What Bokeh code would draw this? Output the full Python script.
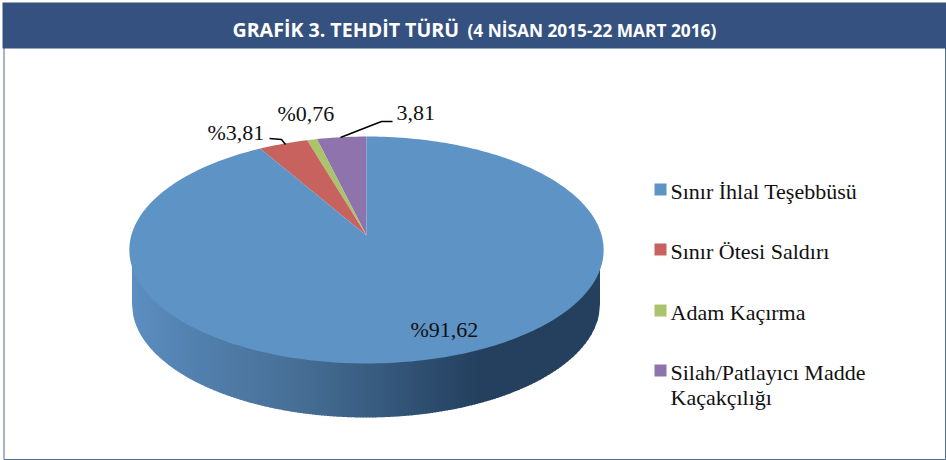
import numpy as np
from bokeh.plotting import figure
from bokeh.models import Range1d
from bokeh.embed import file_html
from bokeh.resources import INLINE
from bokeh.core.properties import value

categories = ["Silah/Patlayıcı Madde\nKaçakçılığı", "Adam Kaçırma", "Sınır Ötesi Saldırı", "Sınır İhlal Teşebbüsü"]
shares = [3.81, 0.76, 3.81, 91.62]
colors = ["#8E73AC", "#A9C46C", "#C8625E", "#5E93C6"]
legend_order = [3, 2, 1, 0]
legend_y = [191, 251, 312, 372]
pct_labels = ["3,81", "%0,76", "%3,81", "%91,62"]
title_main = "GRAFİK 3. TEHDİT TÜRÜ"
title_sub = "(4 NİSAN 2015-22 MART 2016)"

W, H = 946, 460
p = figure(width=W, height=H, x_range=Range1d(0, W), y_range=Range1d(H, 0),
           output_backend="svg", toolbar_location=None, min_border=0,
           outline_line_color=None, background_fill_color="white", border_fill_color="white")
p.axis.visible = False
p.grid.visible = False
p.styles = {"position": "absolute", "left": "0", "top": "0"}

# frame and header
p.quad(left=[3.5], right=[945], top=[47], bottom=[459], fill_color="white", line_color="#4E6C8F", line_width=1)
p.quad(left=[2], right=[946], top=[2], bottom=[48], fill_color="#35517F", line_color=None)
SERIF = value("Liberation Serif")
p.text([232], [29], [title_main], text_font=value("Open Sans"), text_font_style="bold",
       text_font_size="19.6px", text_color="white", text_baseline="middle")
p.text([467], [30], [title_sub], text_font=value("Open Sans"), text_font_style="bold",
       text_font_size="17.3px", text_color="white", text_baseline="middle")

# perspective disc
cx, apex_y = 366, 235
d, a, c = 235.2, 111.6, -0.1278
def rim(t):
    u, v = np.sin(t), -np.cos(t)
    w = 1 + c * v
    return cx + d * u / w, apex_y + a * v / w

# side wall: strips between top rim and lower rim
ex, ey, erx, ery = 365.5, 249.5, 236.5, 113.5
bx, by, brx, bry = 365.5, 303.5, 234, 113.5
stops_x = [129, 200, 300, 400, 480, 602]
stops_c = [(0x5D, 0x8F, 0xC4), (0x52, 0x80, 0xAD), (0x47, 0x6F, 0x96), (0x33, 0x55, 0x78), (0x24, 0x40, 0x5E), (0x24, 0x40, 0x5E)]
def lower(xv, e0, rx, ry):
    r = np.clip((xv - ex) / rx, -1, 1)
    return e0 + ry * np.sqrt(1 - r * r)
xs, ys, cols = [], [], []
for x0 in np.arange(bx - brx, bx + brx - 0.5, 3.0):
    x1 = min(x0 + 3.6, bx + brx)
    g = np.linspace(x0, x1, 4)
    top = lower(g, ey, erx, ery)
    bot = lower(g, by, brx, bry)
    xs.append(list(g) + list(g[::-1]))
    ys.append(list(top - 2) + list(bot[::-1]))
    m = x0 + 1.8
    rgb = [int(np.interp(m, stops_x, [s[i] for s in stops_c])) for i in range(3)]
    cols.append("#%02x%02x%02x" % tuple(rgb))
p.patches(xs, ys, fill_color=cols, line_color=None)

# top-face wedges, running anticlockwise from 12 o'clock
angle = 0.0
boundaries = [0.0]
for s in shares:
    angle -= s / 100 * 2 * np.pi
    boundaries.append(angle)
for i, s in enumerate(shares):
    ts = np.linspace(boundaries[i], boundaries[i + 1], max(4, int(s * 3)))
    rx_, ry_ = rim(ts)
    p.patch([cx] + list(rx_), [apex_y] + list(ry_), fill_color=colors[i], line_color=None)

# leader lines
p.line([269, 281, 285], [138, 139, 144], line_color="black", line_width=1.5)
p.line([340, 381, 392], [137, 121, 121], line_color="black", line_width=1.5)

# value labels
lab_x = [396, 277, 207, 410]
lab_y = [112, 113, 132, 329]
p.text(lab_x, lab_y, pct_labels, text_font=SERIF, text_font_size="22px",
       text_color="#111111", text_baseline="middle")

# legend
for k, i in enumerate(legend_order):
    y = legend_y[k]
    p.quad(left=[654], right=[666], top=[y - 8], bottom=[y + 4], fill_color=colors[i], line_color=None)
    parts = categories[i].split("\n")
    for j, t in enumerate(parts):
        p.text([670], [y + j * 25], [t], text_font=SERIF, text_font_size="22px",
               text_color="#111111", text_baseline="middle")

open("out.html", "w").write(file_html(p, INLINE))
